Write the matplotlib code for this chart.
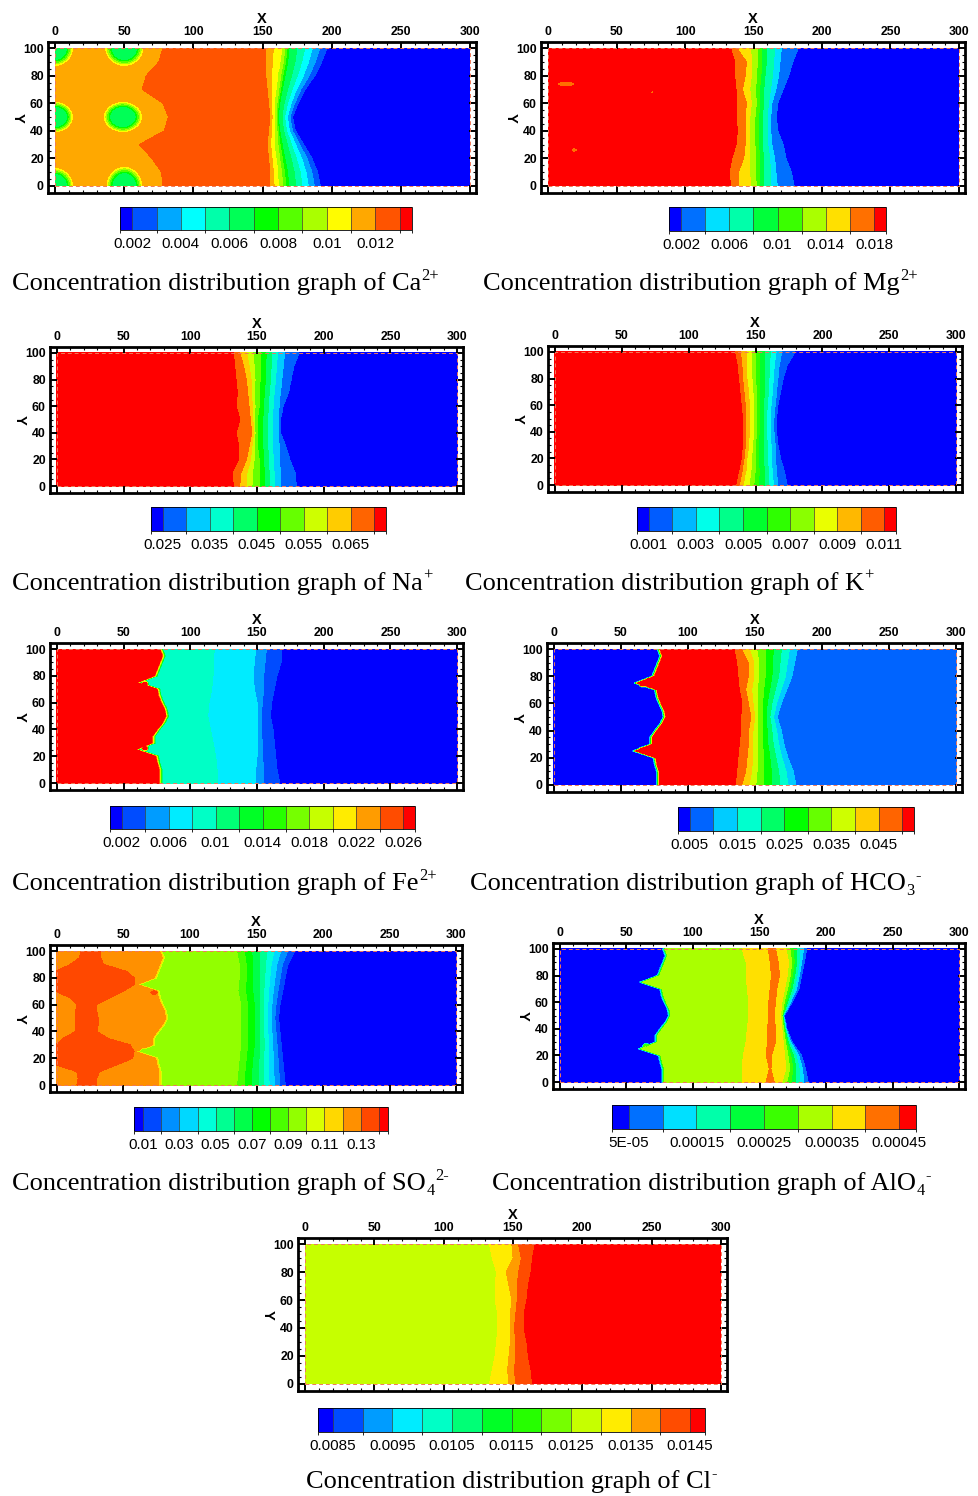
"""Ion concentration fields along the seepage column (nine Tecplot-style contour panels)."""
import numpy as np
import matplotlib
matplotlib.use("Agg")
import matplotlib.pyplot as plt
from matplotlib.colors import LinearSegmentedColormap, ListedColormap, BoundaryNorm

plt.rcParams["font.family"] = ["Liberation Sans", "DejaVu Sans"]

W, H = 979, 1496

# row positions (Y) at which front locations were read
ROWS10 = [0, 10, 20, 30, 40, 50, 60, 70, 80, 90, 100]
ROWS5 = [0, 5, 10, 15, 20, 25, 30, 35, 40, 45, 50, 55, 60, 65, 70, 75, 80, 85, 90, 95, 100]

# shared reaction front (left edge of the dissolution zone), X at ROWS5
REACTION_FRONT = [77.5, 77.5, 77.5, 76, 75, 60, 72.5, 72.5, 76, 80, 82.5,
                  81.5, 79, 77, 76, 61, 74, 76, 78, 80, 78]

# ---- Ca2+
CA_LEVELS = [0.0015, 0.002, 0.003, 0.004, 0.005, 0.006, 0.007, 0.008,
             0.009, 0.010, 0.011, 0.012, 0.013, 0.0135]
CA_TICKS = [0.002, 0.004, 0.006, 0.008, 0.01, 0.012]
CA_ORANGE_EDGE = [78, 77, 70, 61, 79, 82, 78, 63, 66, 75, 78]
CA_FRONT_START = [155, 155, 154, 153, 154, 155, 154, 153, 152, 152, 152]
CA_FRONT_YELLOW = [162, 161, 160, 159, 159, 159, 159, 160, 161, 163, 164]
CA_FRONT_GREEN = [170, 169, 167, 165, 163, 162, 163, 165, 167, 169, 170]
CA_FRONT_BLUE = [192, 190, 186, 180, 174, 172, 176, 181, 188, 193, 197]
CA_SPOTS = [(0, 100, 14, 14, 0.0065), (50, 100, 15, 14, 0.0065),
            (0, 50, 14, 12, 0.0065), (49, 50, 15, 12, 0.0065),
            (0, 0, 14, 14, 0.0065), (50, 0, 14, 15, 0.0065)]

# ---- Mg2+
MG_LEVELS = [0.001, 0.002, 0.004, 0.006, 0.008, 0.010, 0.012, 0.014,
             0.016, 0.018, 0.019]
MG_TICKS = [0.002, 0.006, 0.01, 0.014, 0.018]
MG_RED_EDGE = [133, 132, 134, 137, 138, 137, 137, 137, 136, 136, 133]
MG_ORANGE_EDGE = [139, 139, 143, 144, 144, 144, 145, 142, 144, 145, 138]
MG_YELLOW_EDGE = [149, 148, 148, 148, 148, 148, 149, 148, 149, 149, 149]
MG_GREEN_EDGE = [158, 158, 158, 157, 157, 157, 158, 158, 159, 160, 160]
MG_CYAN_EDGE = [168, 167, 166, 164, 163, 163, 164, 167, 169, 170, 171]
MG_BLUE_EDGE = [180, 178, 174, 172, 168, 167, 168, 172, 176, 179, 183]
MG_SPOTS = [(13, 74, 8, 2.5, 0.0172), (19, 26, 3, 2, 0.0174),
            (76, 68, 1.5, 1.5, 0.0174)]

# ---- Na+
NA_LEVELS = [0.0225, 0.025, 0.03, 0.035, 0.04, 0.045, 0.05, 0.055,
             0.06, 0.065, 0.07, 0.0725]
NA_TICKS = [0.025, 0.035, 0.045, 0.055, 0.065]
NA_RED_EDGE = [132, 131, 136, 136, 134, 137, 134, 135, 134, 133, 132]
NA_ORANGE_EDGE = [137, 138, 142, 144, 146, 145, 144, 143, 142, 140, 137]
NA_GREEN_EDGE = [151, 151, 151, 150, 150, 150, 151, 151, 152, 152, 152]
NA_CYAN_EDGE = [167, 167, 166, 166, 165.5, 165.5, 166, 167, 168, 169, 170]
NA_BLUE_EDGE = [180, 179, 175, 172, 168, 168, 170, 174, 176, 178, 182]

# ---- K+
K_LEVELS = [0.0005, 0.001, 0.002, 0.003, 0.004, 0.005, 0.006, 0.007,
            0.008, 0.009, 0.010, 0.011, 0.0115]
K_TICKS = [0.001, 0.003, 0.005, 0.007, 0.009, 0.011]
K_RED_EDGE = [135, 137, 139, 140, 140, 140, 139, 138, 137, 136, 134]
K_ORANGE_EDGE = [141, 143, 144, 145, 146, 146, 146, 145, 144, 144, 144]
K_GREEN_EDGE = [156, 156, 155, 155, 155, 155, 155, 156, 156, 156, 156]
K_CYAN_EDGE = [167, 166, 165, 165, 164, 164, 165, 166, 167, 168, 170]
K_BLUE_EDGE = [174, 172, 169, 167, 166, 166, 167, 169, 171, 174, 180]

# ---- Fe2+
FE_LEVELS = [0.001, 0.002, 0.004, 0.006, 0.008, 0.010, 0.012, 0.014,
             0.016, 0.018, 0.020, 0.022, 0.024, 0.026, 0.027]
FE_TICKS = [0.002, 0.006, 0.01, 0.014, 0.018, 0.022, 0.026]
FE_CYAN_START = [120, 120, 119, 117, 115, 113, 114, 116, 117, 117, 118]
FE_CYAN_END = [149, 149, 150, 150, 150, 150, 150, 148, 147, 148, 149]
FE_LIGHT_END = [155, 155, 154, 154, 153, 153, 154, 155, 155, 156, 157]
FE_BLUE_EDGE = [167, 165, 164, 163, 162, 160, 161, 163, 165, 168, 168]
FE_SPOTS = [(66, 74, 2.5, 2, 0.0265), (66, 26, 2.5, 2, 0.0265)]

# ---- HCO3-
HC_LEVELS = [0.0025, 0.005, 0.01, 0.015, 0.02, 0.025, 0.03, 0.035,
             0.04, 0.045, 0.05, 0.0525]
HC_TICKS = [0.005, 0.015, 0.025, 0.035, 0.045]
HC_RED_EDGE = [135, 136, 137, 138, 139, 139, 140, 138, 137, 136, 134]
HC_ORANGE_EDGE = [140, 143, 144, 145, 145, 147, 145, 143, 145, 145, 140]
HC_GREEN_MID = [156, 156, 156, 155, 155, 155, 155, 156, 157, 157, 157]
HC_BLUE_EDGE = [181, 179, 175, 172, 170, 167, 170, 174, 178, 180, 182]
HC_SPOTS = [(66, 74, 2.5, 2, 0.051), (66, 26, 2.5, 2, 0.051)]

# ---- SO4 2-
SO_LEVELS = [0.005, 0.01, 0.02, 0.03, 0.04, 0.05, 0.06, 0.07, 0.08,
             0.09, 0.10, 0.11, 0.12, 0.13, 0.14, 0.145]
SO_TICKS = [0.01, 0.03, 0.05, 0.07, 0.09, 0.11, 0.13]
SO_PATCH_LEFT = [15, 16, 15, -1, -1, -1, -1, 5, 14, 14, 14,
                 14, 15, 10, -1, -1, -1, -1, 10, 17, 18]
SO_PATCH_RIGHT = [30, 30, 32, 45, 57, 58, 55, 38, 30, 31, 31,
                  30, 30, 40, 50, 58, 58, 52, 35, 33, 33]
SO_YG_EDGE = [135, 136, 137, 138, 138, 138, 138, 136, 137, 137, 135]
SO_GREEN_END = [147, 147, 148, 149, 149, 149, 149, 148, 148, 148, 147]
SO_BLUE_EDGE = [172, 171, 170, 169, 168, 167, 168, 170, 172, 174, 179]
SO_SPOTS = [(73, 69, 3, 1.5, 0.136), (65, 26, 3, 2, 0.095)]

# ---- AlO4-
AL_LEVELS = [0.000025, 0.00005, 0.0001, 0.00015, 0.0002, 0.00025,
             0.0003, 0.00035, 0.0004, 0.00045, 0.000475]
AL_TICKS = [0.00005, 0.00015, 0.00025, 0.00035, 0.00045]
AL_YELLOW_START = [137, 137, 138, 140, 141, 142, 142, 141, 140, 140, 137]
AL_STREAK_LEFT = [155, 157.4, 155, 156, 156, 157, 157, 158, 159, 158, 156.6]
AL_STREAK_RIGHT = [161, 158.6, 159, 162, 162, 161, 162, 163, 165, 164, 162]
AL_YELLOW_END = [167, 170, 169, 168, 167, 166, 167, 169, 171, 172, 170]
AL_BLUE_EDGE = [187, 185, 182, 175, 171, 169, 175, 180, 182, 184, 186]
AL_SPOTS = [(65, 27, 3, 2, 0.0003)]

# ---- Cl-
CL_LEVELS = [0.00825, 0.0085, 0.009, 0.0095, 0.01, 0.0105, 0.011, 0.0115,
             0.012, 0.0125, 0.013, 0.0135, 0.014, 0.0145, 0.01475]
CL_TICKS = [0.0085, 0.0095, 0.0105, 0.0115, 0.0125, 0.0135, 0.0145]
CL_YELLOW_START = [133, 135, 137, 138, 139, 139, 137, 137, 138, 135, 133]
CL_ORANGE_START = [147, 146, 147, 148, 148, 148, 149, 147, 145, 150, 149]
CL_REDORANGE_START = [152, 151, 152, 152, 151, 152, 153, 153, 154, 156, 154]
CL_RED_START = [164, 163, 161, 160, 158, 158, 160, 161, 163, 164, 166]

GX1 = np.linspace(0, 300, 601)
GY1 = np.linspace(0, 100, 201)
GX, GY = np.meshgrid(GX1, GY1)

# Tecplot "large rainbow": blue -> cyan -> green -> yellow -> red
RAINBOW = LinearSegmentedColormap.from_list(
    "large_rainbow",
    [(0.0, "#0000ff"), (0.25, "#00ffff"), (0.5, "#00ff00"),
     (0.75, "#ffff00"), (1.0, "#ff0000")])

SERIF = "Liberation Serif"
CAP_SIZE = 19


def build_field(fronts, spots):
    """Each front: (x at rows, value before, value after[, width])."""
    Z = np.empty_like(GX)
    for j, yy in enumerate(GY1):
        xs, vs = [-10.0], [fronts[0][1]]
        for fr in fronts:
            xr, before, after = fr[0], fr[1], fr[2]
            w = fr[3] if len(fr) > 3 else 1.0
            rows = ROWS10 if len(xr) == len(ROWS10) else ROWS5
            xc = np.interp(yy, rows, xr)
            xs += [xc - w / 2, xc + w / 2]
            vs += [before, after]
        xs.append(310.0)
        vs.append(fronts[-1][2])
        order = np.argsort(xs, kind="stable")
        Z[j] = np.interp(GX1, np.asarray(xs)[order], np.asarray(vs)[order])
    for xc, yc, rx, ry, vc in spots:
        d = np.hypot((GX - xc) / rx, (GY - yc) / ry)
        t = np.clip((d - 0.6) / 0.4, 0, 1)
        Z = vc + (Z - vc) * t
    return Z


PANELS = [
    dict(ion="Ca", sub="", sup="2+", levels=CA_LEVELS, ticks=CA_TICKS,
         frame=(48, 42, 476, 193), cbar=(120, 207, 412, 230), cap=(12, 290),
         fronts=[(CA_ORANGE_EDGE, 0.0117, 0.0124),
                 (CA_FRONT_START, 0.0124, 0.0119),
                 (CA_FRONT_YELLOW, 0.0100, 0.0100),
                 (CA_FRONT_GREEN, 0.0068, 0.0068),
                 (CA_FRONT_BLUE, 0.0021, 0.0017)],
         spots=CA_SPOTS),
    dict(ion="Mg", sub="", sup="2+", levels=MG_LEVELS, ticks=MG_TICKS,
         frame=(541, 42, 965, 193), cbar=(669, 207, 886, 231), cap=(483, 290),
         fronts=[(MG_RED_EDGE, 0.0185, 0.0178),
                 (MG_ORANGE_EDGE, 0.0161, 0.0158),
                 (MG_YELLOW_EDGE, 0.0139, 0.0139),
                 (MG_GREEN_EDGE, 0.0079, 0.0079),
                 (MG_CYAN_EDGE, 0.0039, 0.0039),
                 (MG_BLUE_EDGE, 0.0021, 0.0015)],
         spots=MG_SPOTS),
    dict(ion="Na", sub="", sup="+", levels=NA_LEVELS, ticks=NA_TICKS,
         frame=(50, 347, 463, 493), cbar=(151, 507, 386, 531), cap=(12, 590),
         fronts=[(NA_RED_EDGE, 0.0715, 0.0695),
                 (NA_ORANGE_EDGE, 0.0651, 0.0649),
                 (NA_GREEN_EDGE, 0.0501, 0.0501),
                 (NA_CYAN_EDGE, 0.0301, 0.0301),
                 (NA_BLUE_EDGE, 0.0251, 0.0238)],
         spots=[]),
    dict(ion="K", sub="", sup="+", levels=K_LEVELS, ticks=K_TICKS,
         frame=(548, 346, 962, 492), cbar=(637, 507, 896, 531), cap=(465, 590),
         fronts=[(K_RED_EDGE, 0.0113, 0.0109),
                 (K_ORANGE_EDGE, 0.00899, 0.00899),
                 (K_GREEN_EDGE, 0.0051, 0.0051),
                 (K_CYAN_EDGE, 0.00201, 0.00195),
                 (K_BLUE_EDGE, 0.00105, 0.0008)],
         spots=[]),
    dict(ion="Fe", sub="", sup="2+", levels=FE_LEVELS, ticks=FE_TICKS,
         frame=(50, 643, 463, 790), cbar=(110, 806, 415, 829), cap=(12, 890),
         fronts=[(REACTION_FRONT, 0.0268, 0.0092, 2.5),
                 (FE_CYAN_START, 0.0085, 0.0075),
                 (FE_CYAN_END, 0.0065, 0.0055),
                 (FE_LIGHT_END, 0.0045, 0.0035),
                 (FE_BLUE_EDGE, 0.0025, 0.0015)],
         spots=FE_SPOTS),
    dict(ion="HCO", sub="3", sup="-", levels=HC_LEVELS, ticks=HC_TICKS,
         frame=(547, 643, 962, 792), cbar=(678, 807, 914, 831), cap=(470, 890),
         fronts=[(REACTION_FRONT, 0.003, 0.0515, 2.5),
                 (HC_RED_EDGE, 0.0515, 0.0495),
                 (HC_ORANGE_EDGE, 0.0451, 0.0449),
                 (HC_GREEN_MID, 0.0301, 0.0301),
                 (HC_BLUE_EDGE, 0.0101, 0.0085)],
         spots=HC_SPOTS),
    dict(ion="SO", sub="4", sup="2-", levels=SO_LEVELS, ticks=SO_TICKS,
         frame=(50, 945, 462, 1092), cbar=(134, 1107, 388, 1131), cap=(12, 1190),
         fronts=[(SO_PATCH_LEFT, 0.125, 0.135),
                 (SO_PATCH_RIGHT, 0.135, 0.125),
                 (REACTION_FRONT, 0.125, 0.095, 2.5),
                 (SO_YG_EDGE, 0.0905, 0.0895),
                 (SO_GREEN_END, 0.0695, 0.0695),
                 (SO_BLUE_EDGE, 0.0105, 0.006)],
         spots=SO_SPOTS),
    dict(ion="AlO", sub="4", sup="-", levels=AL_LEVELS, ticks=AL_TICKS,
         frame=(553, 943, 965, 1089), cbar=(612, 1105, 916, 1129), cap=(492, 1190),
         fronts=[(REACTION_FRONT, 0.00003, 0.000325, 2.5),
                 (AL_YELLOW_START, 0.000335, 0.000375),
                 (AL_STREAK_LEFT, 0.00038, 0.00042, 0.8),
                 (AL_STREAK_RIGHT, 0.00042, 0.00038, 0.8),
                 (AL_YELLOW_END, 0.000352, 0.000345),
                 (AL_BLUE_EDGE, 0.000051, 0.00003)],
         spots=AL_SPOTS),
    dict(ion="Cl", sub="", sup="-", levels=CL_LEVELS, ticks=CL_TICKS,
         frame=(298, 1238, 727, 1391), cbar=(318, 1408, 705, 1432), cap=(306, 1488),
         fronts=[(CL_YELLOW_START, 0.01275, 0.0132),
                 (CL_ORANGE_START, 0.0132, 0.0137),
                 (CL_REDORANGE_START, 0.0138, 0.0142),
                 (CL_RED_START, 0.0143, 0.0147)],
         spots=[]),
]


def draw_caption(fig, renderer, p):
    """Serif caption with the ion charge / subscript placed by hand."""
    x0, base = p["cap"][0], H - p["cap"][1]
    t = fig.text(x0 / W, base / H, "Concentration distribution graph of " + p["ion"],
                 family=SERIF, fontsize=CAP_SIZE, va="baseline", ha="left")
    x_end = t.get_window_extent(renderer).x1
    small = CAP_SIZE * 0.62
    if p["sub"]:
        s = fig.text((x_end + 0.5) / W, (base - 5) / H, p["sub"], family=SERIF,
                     fontsize=small, va="baseline", ha="left")
        x_end = s.get_window_extent(renderer).x1
    fig.text((x_end + 0.5) / W, (base + 10) / H, p["sup"], family=SERIF,
             fontsize=small, va="baseline", ha="left")


def draw_panel(fig, p):
    l, t, r, b = p["frame"]
    ax = fig.add_axes([l / W, 1 - b / H, (r - l) / W, (b - t) / H])
    levels = p["levels"]
    n = len(levels) - 1
    cmap = ListedColormap([RAINBOW(i / (n - 1)) for i in range(n)])
    norm = BoundaryNorm(levels, n)
    Z = build_field(p["fronts"], p["spots"])
    Z = np.clip(Z, levels[0] * 1.0001, levels[-1] * 0.9999)
    cf = ax.contourf(GX, GY, Z, levels=levels, cmap=cmap, norm=norm)

    # dashed boundary of the computational domain
    ax.plot([0, 300, 300, 0, 0], [0, 0, 100, 100, 0], ls=(0, (4, 3)),
            color="#f07a5a", lw=0.7)

    ax.set_xlim(-5.2, 304.4)
    ax.set_ylim(-5.2, 104.5)
    ax.set_xticks([0, 50, 100, 150, 200, 250, 300])
    ax.set_xticks(np.arange(0, 301, 10), minor=True)
    ax.set_yticks([0, 20, 40, 60, 80, 100])
    ax.set_yticks(np.arange(0, 101, 5), minor=True)
    ax.tick_params(which="both", direction="in", top=True, bottom=True,
                   left=True, right=True, labeltop=True, labelbottom=False)
    ax.tick_params(which="major", length=5, width=1.4, labelsize=8.8, pad=3)
    ax.tick_params(which="minor", length=2.5, width=0.8)
    for lab in ax.get_xticklabels() + ax.get_yticklabels():
        lab.set_fontweight("bold")
    ax.xaxis.set_label_position("top")
    ax.set_xlabel("X", fontsize=10.5, fontweight="bold", labelpad=2)
    ax.set_ylabel("Y", fontsize=10.5, fontweight="bold", rotation=-90,
                  labelpad=4, va="center")
    for s in ax.spines.values():
        s.set_linewidth(2.0)

    cl, ct, cr, cb_ = p["cbar"]
    cax = fig.add_axes([cl / W, 1 - cb_ / H, (cr - cl) / W, (cb_ - ct) / H])
    cb = fig.colorbar(cf, cax=cax, orientation="horizontal", ticks=p["ticks"],
                      spacing="proportional", drawedges=True)
    cb.ax.set_xticklabels([f"{v:G}" for v in p["ticks"]])
    cb.ax.tick_params(length=0, labelsize=11, pad=5)
    cb.outline.set_linewidth(0.6)
    cb.dividers.set_color("#3a3a3a")
    cb.dividers.set_linewidth(0.5)


def main():
    fig = plt.figure(figsize=(W / 100, H / 100), dpi=100)
    fig.patch.set_facecolor("white")
    renderer = fig.canvas.get_renderer()
    for p in PANELS:
        draw_panel(fig, p)
        draw_caption(fig, renderer, p)
    fig.savefig("out.png", dpi=100)
    plt.close(fig)


if __name__ == "__main__":
    main()
